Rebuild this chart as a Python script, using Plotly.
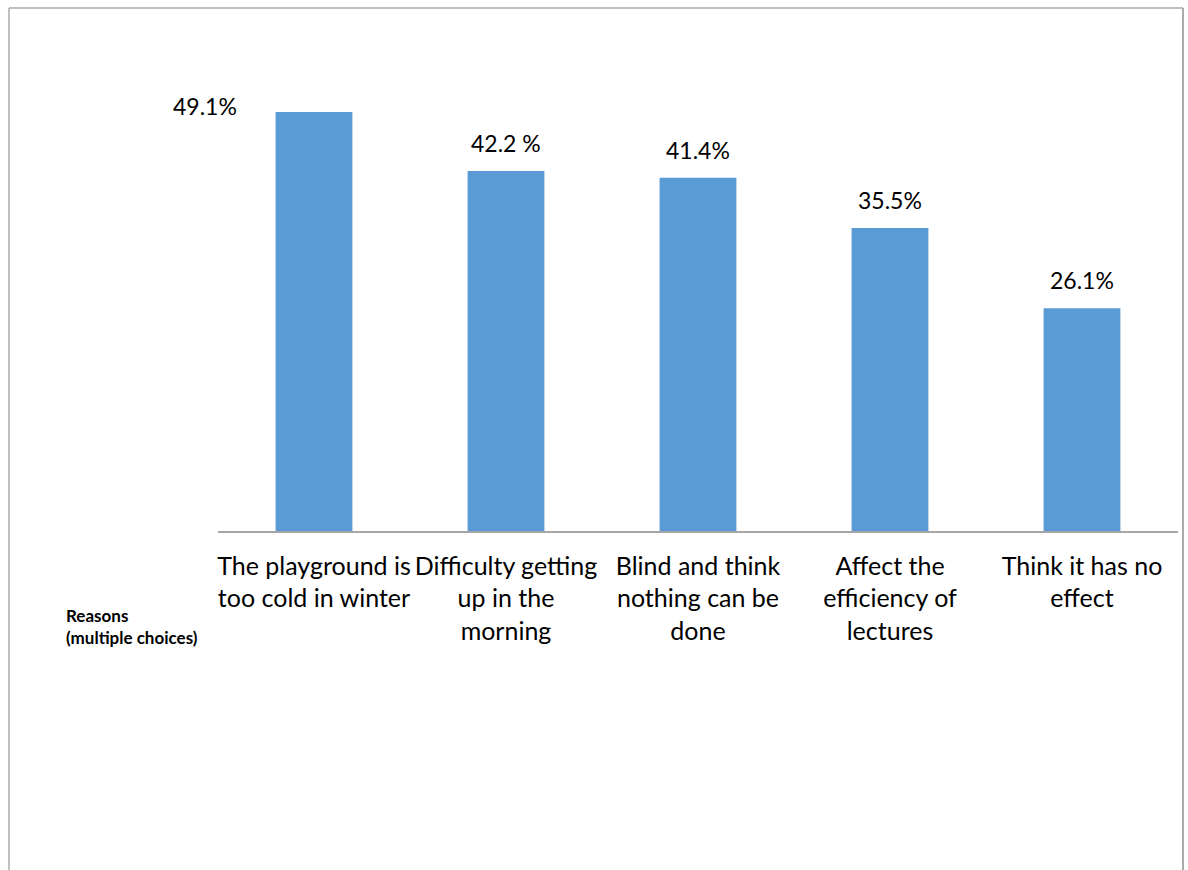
import plotly.graph_objects as go

categories = [
    "The playground is<br>too cold in winter",
    "Difficulty getting<br>up in the<br>morning",
    "Blind and think<br>nothing can be<br>done",
    "Affect the<br>efficiency of<br>lectures",
    "Think it has no<br>effect",
]
values = [49.1, 42.2, 41.4, 35.5, 26.1]
value_labels = ["49.1%", "42.2 %", "41.4%", "35.5%", "26.1%"]
axis_title = "Reasons<br>(multiple choices)"

W, H = 1188, 870
L, R, T, B = 218, 10, 19, 339
pw, ph = W - L - R, H - T - B

def px(x):
    return (x - L) / pw

def py(y):
    return (H - B - y) / ph

FONT = "Lato"
fig = go.Figure()
fig.add_trace(go.Bar(
    x=categories, y=values, width=0.4,
    marker=dict(color="#5B9BD5", line=dict(width=0)),
    hoverinfo="skip",
))

for i, (c, v, t) in enumerate(zip(categories, values, value_labels)):
    if i == 0:
        fig.add_annotation(x=c, y=v, text=t, showarrow=False, xanchor="center",
                           yanchor="middle", xshift=-109, yshift=6,
                           font=dict(family=FONT, size=23, color="#000000"))
    else:
        fig.add_annotation(x=c, y=v, text=t, showarrow=False, xanchor="center",
                           yanchor="bottom", yshift=12,
                           font=dict(family=FONT, size=23, color="#000000"))

fig.add_annotation(xref="paper", yref="paper", x=px(64), y=py(603),
                   text="<b>" + axis_title.replace("<br>", "</b><br><b>") + "</b>",
                   showarrow=False, xanchor="left", yanchor="top", align="left",
                   font=dict(family=FONT, size=17, color="#000000"))

# chart border
bc = "#ABABAB"
fig.add_shape(type="line", xref="paper", yref="paper", x0=px(9), x1=px(9), y0=py(8), y1=py(880), line=dict(color=bc, width=1.5))
fig.add_shape(type="line", xref="paper", yref="paper", x0=px(9), x1=px(1183), y0=py(8), y1=py(8), line=dict(color=bc, width=1.5))
fig.add_shape(type="line", xref="paper", yref="paper", x0=px(1183), x1=px(1183), y0=py(8), y1=py(880), line=dict(color=bc, width=2))

fig.update_layout(
    width=W, height=H,
    margin=dict(l=L, r=R, t=T, b=B, pad=0, autoexpand=False),
    paper_bgcolor="white", plot_bgcolor="white",
    showlegend=False,
    bargap=0.6,
    xaxis=dict(showline=True, linecolor="#A6A6A6", linewidth=1.5, showgrid=False,
               range=[-0.5, len(categories) - 0.5],
               ticks="", ticklabelstandoff=12, tickangle=0, automargin=False,
               tickfont=dict(family=FONT, size=25, color="#000000"), fixedrange=True),
    yaxis=dict(range=[0, 60], visible=False, showgrid=False, zeroline=False,
               automargin=False, fixedrange=True),
)

fig.write_html("out.html", config={"displayModeBar": False},
               post_script="document.body.style.margin='0';")
